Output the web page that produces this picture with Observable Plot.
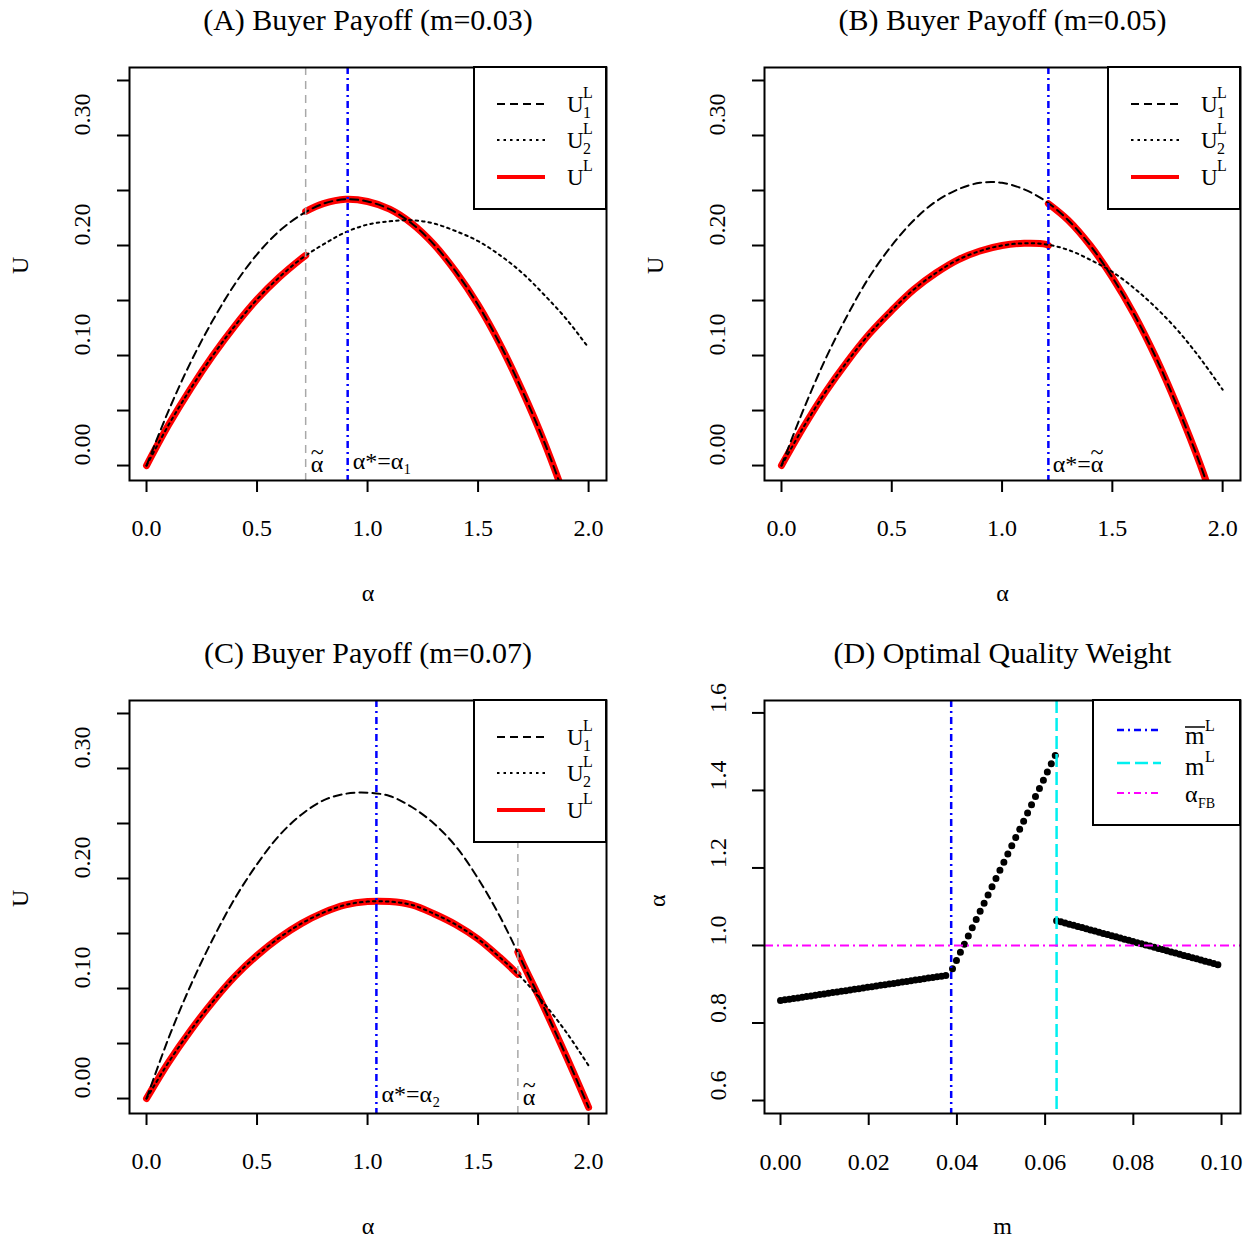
<!DOCTYPE html>
<html><head><meta charset="utf-8">
<script src="https://cdn.jsdelivr.net/npm/d3@7"></script>
<script src="https://cdn.jsdelivr.net/npm/@observablehq/plot@0.6"></script>
<style>
html,body{margin:0;padding:0;background:#fff;overflow:hidden;}
#wrap{position:relative;width:1260px;height:1239px;overflow:hidden;background:#fff;}
.panel{position:absolute;}
</style></head><body><div id="wrap"></div>
<script>
const FONT = "'Liberation Serif','Times New Roman',Times,serif";

// ---------- data ----------
const alphaGrid = [0, 0.1, 0.2, 0.3, 0.4, 0.5, 0.6, 0.7, 0.8, 0.9, 1.0, 1.1, 1.2, 1.3, 1.4, 1.5, 1.6, 1.7, 1.8, 1.9, 2.0];
// Panel A (m = 0.03)
const uA1 = [0, 0.050, 0.094, 0.132, 0.165, 0.192, 0.213, 0.228, 0.238, 0.242, 0.240, 0.233, 0.220, 0.201, 0.176, 0.146, 0.110, 0.068, 0.021, -0.033, -0.092];
const uA2 = [0, 0.037, 0.070, 0.100, 0.127, 0.151, 0.171, 0.188, 0.201, 0.212, 0.219, 0.222, 0.223, 0.220, 0.213, 0.204, 0.191, 0.175, 0.155, 0.133, 0.107];
// Panel B (m = 0.05)
const uB1 = [0, 0.051, 0.097, 0.137, 0.172, 0.200, 0.223, 0.240, 0.251, 0.257, 0.257, 0.251, 0.240, 0.223, 0.200, 0.171, 0.137, 0.097, 0.051, 0.000, -0.058];
const uB2 = [0, 0.035, 0.067, 0.095, 0.120, 0.141, 0.160, 0.175, 0.187, 0.195, 0.200, 0.202, 0.201, 0.196, 0.187, 0.176, 0.161, 0.143, 0.122, 0.097, 0.069];
// Panel C (m = 0.07)
const uC1 = [0, 0.055, 0.103, 0.145, 0.182, 0.213, 0.239, 0.258, 0.271, 0.277, 0.278, 0.275, 0.265, 0.250, 0.229, 0.200, 0.165, 0.124, 0.082, 0.038, -0.008];
const uC2 = [0, 0.033, 0.062, 0.088, 0.111, 0.130, 0.146, 0.159, 0.169, 0.176, 0.179, 0.179, 0.176, 0.168, 0.158, 0.145, 0.128, 0.109, 0.086, 0.060, 0.030];
// switch points (alpha tilde), values of each curve there, and alpha*
const tildeA = 0.72, tildeA_U2 = 0.191, tildeA_U1 = 0.231, starA = 0.91;
const tildeB = 1.21, tildeB_U2 = 0.200, tildeB_U1 = 0.238, starB = 1.21;
const tildeC = 1.68, tildeC_U2 = 0.113, tildeC_U1 = 0.133, starC = 1.04;
// tick values
const uTicks = [0, 0.05, 0.10, 0.15, 0.20, 0.25, 0.30, 0.35];
const uTickLabels = [0, 0.10, 0.20, 0.30];
const alphaTicks = [0, 0.5, 1.0, 1.5, 2.0];
// Panel D (optimal quality weight)
const d1M = [0.000, 0.0383], d1Alpha = [0.858, 0.924];
const d2M = [0.0390, 0.0623], d2Alpha = [0.940, 1.490];
const d3M = [0.0626, 0.1000], d3Alpha = [1.064, 0.948];
const mBarL = 0.0387, mUnderL = 0.0626, alphaFB = 1.0;
const mTicks = [0, 0.02, 0.04, 0.06, 0.08, 0.10];
const dAlphaTicks = [0.6, 0.8, 1.0, 1.2, 1.4, 1.6];

// ---------- helpers ----------
const wrap = document.getElementById("wrap");
function place(el, left, top) {
  const d = document.createElement("div");
  d.className = "panel"; d.style.left = left + "px"; d.style.top = top + "px";
  d.appendChild(el); wrap.appendChild(d);
}
const tbl = (ys) => alphaGrid.map((a, i) => ({a, u: ys[i]}));
function redTable(lowU, highU, tilde, lowAt, highAt) {
  const rows = [];
  alphaGrid.forEach((a, i) => { if (a < tilde) rows.push({a, u: lowU[i], seg: 0}); });
  rows.push({a: tilde, u: lowAt, seg: 0});
  rows.push({a: tilde, u: highAt, seg: 1});
  alphaGrid.forEach((a, i) => { if (a > tilde) rows.push({a, u: highU[i], seg: 1}); });
  return rows;
}
function svgText(g, x, y, str, size, anchor) {
  return g.append("text").attr("x", x).attr("y", y).attr("font-size", size)
    .attr("font-family", FONT).attr("fill", "black").attr("text-anchor", anchor || "start").text(str);
}
function svgLine(g, x1, x2, y, stroke, width, dash) {
  const l = g.append("line").attr("x1", x1).attr("x2", x2).attr("y1", y).attr("y2", y)
    .attr("stroke", stroke).attr("stroke-width", width);
  if (dash) l.attr("stroke-dasharray", dash);
  return l;
}
function legendU(svg, bx, by) {
  const g = d3.select(svg).append("g");
  g.append("rect").attr("x", bx).attr("y", by).attr("width", 132).attr("height", 142)
    .attr("fill", "white").attr("stroke", "black").attr("stroke-width", 2);
  const rows = [by + 37, by + 73, by + 110];
  const lx1 = bx + 23, lx2 = bx + 71, tx = bx + 93;
  svgLine(g, lx1, lx2, rows[0], "black", 2, "8 5");
  svgLine(g, lx1, lx2, rows[1], "black", 2, "2.5 4");
  svgLine(g, lx1, lx2, rows[2], "#ff0000", 4, null);
  [["1", 0], ["2", 1]].forEach(([sub, r]) => {
    svgText(g, tx, rows[r] + 8, "U", 23);
    svgText(g, tx + 16, rows[r] - 6, "L", 16);
    svgText(g, tx + 16, rows[r] + 14, sub, 16);
  });
  svgText(g, tx, rows[2] + 8, "U", 23);
  svgText(g, tx + 16, rows[2] - 6, "L", 16);
}

// notes: [{x, label, anchor, dx}] ; a "~" line above gives the tilde accent
function panelU({title, u1, u2, tilde, lowAt, highAt, star, showTilde, notes, width, height, marginRight, marginBottom}) {
  const fmt = d3.format(".1f"), fmt2 = d3.format(".2f");
  const marks = [
    Plot.line(redTable(u2, u1, tilde, lowAt, highAt), {x: "a", y: "u", z: "seg", stroke: "#ff0000", strokeWidth: 7,
      strokeLinecap: "round", strokeLinejoin: "round", curve: "catmull-rom", clip: true}),
    Plot.line(tbl(u1), {x: "a", y: "u", stroke: "black", strokeWidth: 2, strokeDasharray: "8 5", curve: "catmull-rom", clip: true}),
    Plot.line(tbl(u2), {x: "a", y: "u", stroke: "black", strokeWidth: 2, strokeDasharray: "2.5 4", curve: "catmull-rom", clip: true})
  ];
  if (showTilde) marks.push(Plot.ruleX([tilde], {x: d => d, stroke: "#a8a8a8", strokeWidth: 1.5, strokeDasharray: "8 6"}));
  marks.push(Plot.ruleX([star], {x: d => d, stroke: "#0000ff", strokeWidth: 2.5, strokeDasharray: "7 4 2 4"}));
  notes.forEach(n => marks.push(
    Plot.text([n], {x: "x", y: () => 0, text: "label", textAnchor: n.anchor, dx: n.dx, dy: n.multi ? -3 : 0,
      lineAnchor: "middle", lineHeight: 0.5, fontSize: 24, fontFamily: FONT})
  ));
  marks.push(
    Plot.frame({stroke: "black", strokeWidth: 2}),
    Plot.axisX(alphaTicks, {tickSize: 12, tickFormat: () => "", strokeWidth: 2, label: null}),
    Plot.axisY(uTicks, {tickSize: 12, tickFormat: () => "", strokeWidth: 2, label: null}),
    Plot.text(alphaTicks, {x: d => d, frameAnchor: "bottom", dy: 48, text: d => fmt(d), fontSize: 24, lineAnchor: "middle", fontFamily: FONT}),
    Plot.text(uTickLabels, {y: d => d, frameAnchor: "left", dx: -47, rotate: -90, text: d => fmt2(d), fontSize: 24, lineAnchor: "middle", fontFamily: FONT}),
    Plot.text([title], {frameAnchor: "top", dy: -47, text: d => d, fontSize: 30, lineAnchor: "middle", fontFamily: FONT}),
    Plot.text(["α"], {frameAnchor: "bottom", dy: 113, text: d => d, fontSize: 24, lineAnchor: "middle", fontFamily: FONT}),
    Plot.text(["U"], {frameAnchor: "left", dx: -109, rotate: -90, text: d => d, fontSize: 24, lineAnchor: "middle", fontFamily: FONT})
  );
  return Plot.plot({
    width, height, marginLeft: 129, marginRight, marginTop: 67, marginBottom,
    x: {domain: [-0.077, 2.081]}, y: {domain: [-0.0136, 0.3618]},
    style: {fontFamily: FONT, background: "white", color: "black"},
    marks
  });
}

// ---------- panels ----------
const pA = panelU({title: "(A) Buyer Payoff (m=0.03)", u1: uA1, u2: uA2, tilde: tildeA, lowAt: tildeA_U2, highAt: tildeA_U1,
  star: starA, showTilde: true,
  notes: [{x: tildeA, label: "~\nα", anchor: "start", dx: 5, multi: true}, {x: starA, label: "α*=α₁", anchor: "start", dx: 5}],
  width: 630, height: 633, marginRight: 24, marginBottom: 153});
legendU(pA, 474, 67);
place(pA, 0, 0);

const pB = panelU({title: "(B) Buyer Payoff (m=0.05)", u1: uB1, u2: uB2, tilde: tildeB, lowAt: tildeB_U2, highAt: tildeB_U1,
  star: starB, showTilde: false,
  notes: [{x: starB, label: "~\nα*=α", anchor: "end", dx: 55, multi: true}],
  width: 625, height: 633, marginRight: 20, marginBottom: 153});
legendU(pB, 473, 67);
place(pB, 635, 0);

const pC = panelU({title: "(C) Buyer Payoff (m=0.07)", u1: uC1, u2: uC2, tilde: tildeC, lowAt: tildeC_U2, highAt: tildeC_U1,
  star: starC, showTilde: true,
  notes: [{x: starC, label: "α*=α₂", anchor: "start", dx: 5}, {x: tildeC, label: "~\nα", anchor: "start", dx: 5, multi: true}],
  width: 630, height: 606, marginRight: 24, marginBottom: 126});
legendU(pC, 474, 67);
place(pC, 0, 633);

// Panel D
const dSegs = [
  {m: d1M, a: d1Alpha, gap: 4.4},
  {m: d2M, a: d2Alpha, gap: 9.1},
  {m: d3M, a: d3Alpha, gap: 4.4}
];
const dMarks = dSegs.map(s => Plot.line(s.m.map((m, i) => ({m, a: s.a[i]})), {x: "m", y: "a", stroke: "black",
  strokeWidth: 7, strokeLinecap: "round", strokeDasharray: `0 ${s.gap}`}));
const pD = Plot.plot({
  width: 625, height: 606, marginLeft: 129, marginRight: 20, marginTop: 67, marginBottom: 126,
  x: {domain: [-0.00363, 0.1043]}, y: {domain: [0.5665, 1.632]},
  style: {fontFamily: FONT, background: "white", color: "black"},
  marks: [
    ...dMarks,
    Plot.ruleX([mBarL], {x: d => d, stroke: "#0000ff", strokeWidth: 2.5, strokeDasharray: "7 4 2 4"}),
    Plot.ruleX([mUnderL], {x: d => d, stroke: "#00f0f0", strokeWidth: 2.5, strokeDasharray: "13 5"}),
    Plot.ruleY([alphaFB], {y: d => d, stroke: "#ff00ff", strokeWidth: 2, strokeDasharray: "9 4 2 4"}),
    Plot.frame({stroke: "black", strokeWidth: 2}),
    Plot.axisX(mTicks, {tickSize: 12, tickFormat: () => "", strokeWidth: 2, label: null}),
    Plot.axisY(dAlphaTicks, {tickSize: 12, tickFormat: () => "", strokeWidth: 2, label: null}),
    Plot.text(mTicks, {x: d => d, frameAnchor: "bottom", dy: 49, text: d => d3.format(".2f")(d), fontSize: 24, lineAnchor: "middle", fontFamily: FONT}),
    Plot.text(dAlphaTicks, {y: d => d, frameAnchor: "left", dx: -46, rotate: -90, text: d => d3.format(".1f")(d), fontSize: 24, lineAnchor: "middle", fontFamily: FONT}),
    Plot.text(["(D) Optimal Quality Weight"], {frameAnchor: "top", dy: -47, text: d => d, fontSize: 30, lineAnchor: "middle", fontFamily: FONT}),
    Plot.text(["m"], {frameAnchor: "bottom", dy: 113, text: d => d, fontSize: 24, lineAnchor: "middle", fontFamily: FONT}),
    Plot.text(["α"], {frameAnchor: "left", dx: -107, rotate: -90, text: d => d, fontSize: 24, lineAnchor: "middle", fontFamily: FONT})
  ]
});
{
  const g = d3.select(pD).append("g");
  g.append("rect").attr("x", 458).attr("y", 67).attr("width", 147).attr("height", 125)
    .attr("fill", "white").attr("stroke", "black").attr("stroke-width", 2);
  const rows = [97, 130, 160];
  svgLine(g, 482, 526, rows[0], "#0000ff", 2.5, "7 4 2 4");
  svgLine(g, 482, 526, rows[1], "#00f0f0", 2.5, "13 5");
  svgLine(g, 482, 526, rows[2], "#ff00ff", 2, "7 4 2 4");
  svgText(g, 550, rows[0] + 14, "m", 25);
  g.append("line").attr("x1", 550).attr("x2", 570).attr("y1", rows[0] - 3).attr("y2", rows[0] - 3).attr("stroke", "black").attr("stroke-width", 1.5);
  svgText(g, 570, rows[0] + 1, "L", 16);
  svgText(g, 550, rows[1] + 12, "m", 25);
  svgText(g, 570, rows[1] - 1, "L", 16);
  svgText(g, 550, rows[2] + 9, "α", 24);
  svgText(g, 563, rows[2] + 15, "FB", 14);
}
place(pD, 635, 633);
</script></body></html>
